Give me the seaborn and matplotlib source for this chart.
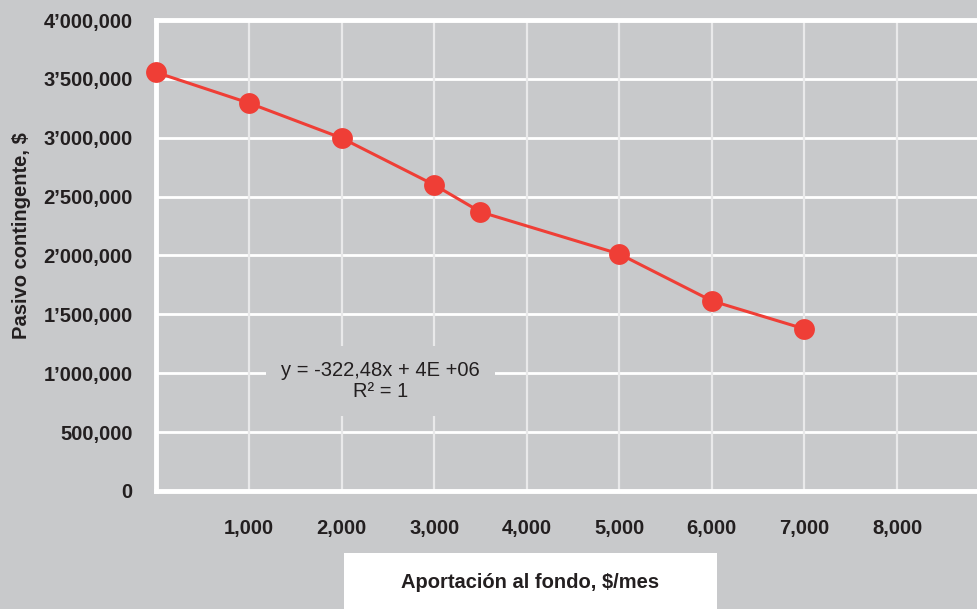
import pandas as pd
import matplotlib.pyplot as plt
import matplotlib.patches as mpatches
from matplotlib.ticker import FuncFormatter
import seaborn as sns

# Data
aportacion = [0, 1000, 2000, 3000, 3500, 5000, 6000, 7000]
pasivo = [3555000, 3295000, 2998000, 2600000, 2370000, 2013000, 1614000, 1376000]
x_ticks = [1000, 2000, 3000, 4000, 5000, 6000, 7000, 8000]
y_ticks = [0, 500000, 1000000, 1500000, 2000000, 2500000, 3000000, 3500000, 4000000]

df = pd.DataFrame({'aportacion': aportacion, 'pasivo': pasivo})

bg = '#c8c9cb'
red = '#ef3e36'
ink = '#231f20'

sns.set_style('white', {'axes.facecolor': bg, 'figure.facecolor': bg})
plt.rcParams['font.family'] = ['Liberation Sans Narrow', 'Liberation Sans', 'DejaVu Sans']

fig = plt.figure(figsize=(9.78, 6.09), dpi=100)
ax = fig.add_axes([0.16, 0.194, 0.84, 0.773])

sns.lineplot(data=df, x='aportacion', y='pasivo', ax=ax, color=red, linewidth=2.2,
             marker='o', markersize=15, markeredgewidth=0, zorder=5, clip_on=False)

ax.set_xlim(0, 8875)
ax.set_ylim(0, 4000000)
ax.set_xticks(x_ticks)
ax.set_yticks(y_ticks)


def fmt_y(v, pos):
    v = int(round(v))
    if v == 0:
        return '0'
    m, rest = divmod(v, 1000000)
    if m:
        return f"{m}\u2019{rest // 1000:03d},{rest % 1000:03d}"
    return f"{v:,}"


ax.yaxis.set_major_formatter(FuncFormatter(fmt_y))
ax.xaxis.set_major_formatter(FuncFormatter(lambda v, p: f"{int(v):,}"))

for y in y_ticks[1:-1]:
    ax.axhline(y, color='white', linewidth=2, zorder=1)
for x in x_ticks:
    ax.axvline(x, color='#e9e9ea', linewidth=1.6, zorder=1)

for side in ['left', 'bottom', 'top']:
    ax.spines[side].set_color('white')
    ax.spines[side].set_linewidth(3.5)
ax.spines['right'].set_visible(False)

ax.tick_params(axis='y', length=7, width=2, color='white', pad=10,
               labelsize=14.5, labelcolor=ink)
ax.tick_params(axis='x', length=10, width=1.6, color='#e9e9ea', pad=10,
               labelsize=14.5, labelcolor=ink)
for lab in ax.get_xticklabels() + ax.get_yticklabels():
    lab.set_fontweight('bold')

ax.set_xlabel('')
ax.set_ylabel('Pasivo contingente, $', fontsize=14.5, fontweight='bold', color=ink)
ax.yaxis.set_label_coords(-0.153, 0.543)

ax.text(2420, 935000, 'y = -322,48x + 4E +06\nR² = 1', ha='center', va='center',
        fontsize=14.5, color=ink, linespacing=1.15, zorder=6,
        bbox=dict(boxstyle='square,pad=0.75', facecolor=bg, edgecolor='none'))

fig.patches.append(mpatches.Rectangle((344 / 978, 0), (717 - 344) / 978, 56 / 609,
                                      transform=fig.transFigure, facecolor='white',
                                      edgecolor='none', zorder=0))
fig.text(530 / 978, 1 - 582 / 609, 'Aportación al fondo, $/mes', ha='center', va='center',
         fontsize=14.5, fontweight='bold', color=ink)

fig.savefig('out.png', dpi=100, facecolor=bg)
